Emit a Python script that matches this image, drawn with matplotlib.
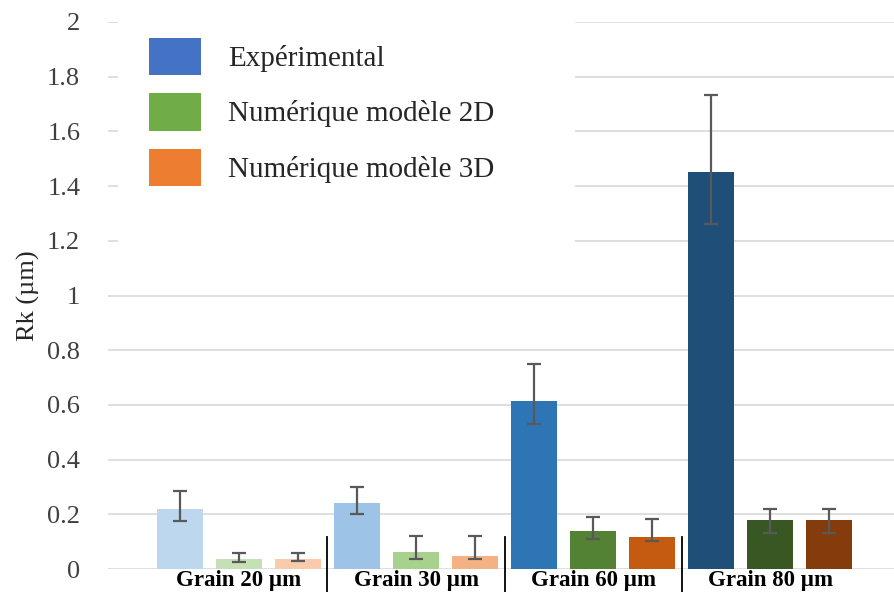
import matplotlib.pyplot as plt
import matplotlib.transforms as mtransforms
from matplotlib.patches import Patch, Rectangle
import numpy as np

plt.rcParams['font.family'] = ['Liberation Serif', 'DejaVu Serif']

groups = ["Grain 20 µm", "Grain 30 µm", "Grain 60 µm", "Grain 80 µm"]
series = ["Expérimental", "Numérique modèle 2D", "Numérique modèle 3D"]

# values and error bar ends (lower / upper)
exp_vals = [0.22, 0.241, 0.615, 1.45]
exp_lo = [0.175, 0.202, 0.529, 1.261]
exp_hi = [0.286, 0.301, 0.748, 1.733]

num2d_vals = [0.035, 0.061, 0.14, 0.18]
num2d_lo = [0.024, 0.035, 0.109, 0.133]
num2d_hi = [0.06, 0.121, 0.191, 0.22]

num3d_vals = [0.035, 0.048, 0.118, 0.18]
num3d_lo = [0.029, 0.035, 0.101, 0.133]
num3d_hi = [0.06, 0.121, 0.182, 0.22]

legend_colors = ["#4472C4", "#70AD47", "#ED7D31"]
exp_colors = ["#BDD7EE", "#9DC3E6", "#2E75B6", "#1F4E79"]
num2d_colors = ["#C5E0B4", "#A9D18E", "#548235", "#385723"]
num3d_colors = ["#F8CBAD", "#F4B183", "#C55A11", "#843C0C"]

fig = plt.figure(figsize=(8.95, 5.92), dpi=100)
ax = fig.add_axes([108 / 895, 1 - 569 / 592, 787 / 895, 547 / 592])

x = np.arange(len(groups))
width = 0.26
offset = 0.333

all_series = [
    (exp_vals, exp_lo, exp_hi, exp_colors),
    (num2d_vals, num2d_lo, num2d_hi, num2d_colors),
    (num3d_vals, num3d_lo, num3d_hi, num3d_colors),
]

for k, (vals, lo, hi, cols) in enumerate(all_series):
    vals = np.array(vals)
    yerr = [vals - np.array(lo), np.array(hi) - vals]
    pos = x + (k - 1) * offset
    ax.bar(pos, vals, width, color=cols, zorder=2)
    ax.errorbar(pos, vals, yerr=yerr, fmt='none', ecolor='#595959',
                elinewidth=1.6, capsize=4.8, capthick=1.6, zorder=3)

ax.set_ylim(0, 2)
ax.set_xlim(-0.74, 3.706)
ax.set_yticks(np.arange(0, 2.01, 0.2))
ax.set_yticklabels(['0', '0.2', '0.4', '0.6', '0.8', '1', '1.2', '1.4', '1.6', '1.8', '2'])
ax.yaxis.grid(True, color='#D9D9D9', linewidth=1.2, zorder=0)
ax.set_axisbelow(True)
for s in ax.spines.values():
    s.set_visible(False)
ax.tick_params(axis='y', length=0, pad=20, labelsize=19, labelcolor='#404040')
ax.tick_params(axis='x', length=0, pad=1)
ax.set_xticks(x)
ax.set_xticklabels(groups, fontsize=16.5, fontweight='bold', color='black')
ax.set_ylabel("Rk (µm)", fontsize=19, color='#262626')
ax.yaxis.set_label_coords(-0.086, 0.5)

# category separators below the axis
trans = mtransforms.blended_transform_factory(ax.transData, ax.transAxes)
for b in x[:-1] + 0.5:
    ax.plot([b, b], [0.0585, -0.1], color='black', linewidth=1.3,
            transform=trans, clip_on=False, zorder=4)

# white legend area hiding the upper gridlines, as in the original
fig.patches.append(Rectangle((118 / 895, 1 - 265 / 592), 457 / 895, 258 / 592,
                             transform=fig.transFigure, facecolor='white',
                             edgecolor='none', zorder=1.5))

handles = [Patch(facecolor=c) for c in legend_colors]
leg = fig.legend(handles, series, loc='upper left',
                 bbox_to_anchor=(118 / 895, 1 - 7 / 592),
                 bbox_transform=fig.transFigure,
                 fontsize=21, frameon=False, borderpad=0.55,
                 handlelength=1.78, handleheight=1.6, labelspacing=0.62,
                 handletextpad=0.95)
for t in leg.get_texts():
    t.set_color('#262626')

fig.savefig("out.png", dpi=100)
